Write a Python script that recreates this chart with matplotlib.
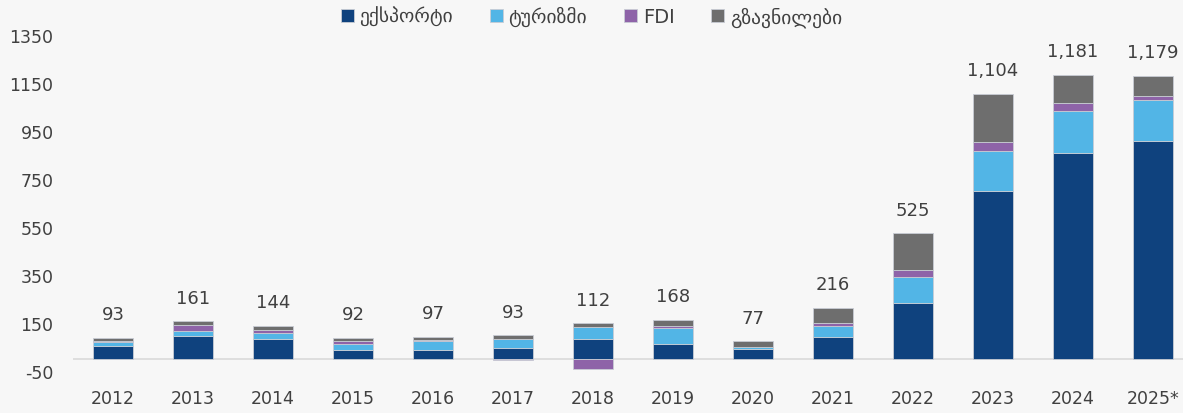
import numpy as np
import matplotlib.pyplot as plt

plt.rcParams["axes.unicode_minus"] = False

years = ["2012", "2013", "2014", "2015", "2016", "2017", "2018",
         "2019", "2020", "2021", "2022", "2023", "2024", "2025*"]

export = [55, 97, 85, 39, 36, 47, 85, 61, 42, 92, 234, 701, 858, 909]
tourism = [16, 21, 24, 25, 39, 38, 47, 68, 9, 45, 106, 166, 173, 169]
fdi = [4, 22, 12, 11, 5, -6, -42, 7, 1, 13, 32, 35, 33, 17]
remit = [12, 17, 18, 12, 13, 14, 17, 28, 21, 62, 151, 201, 118, 85]

totals = ["93", "161", "144", "92", "97", "93", "112",
          "168", "77", "216", "525", "1,104", "1,181", "1,179"]

names = ["ექსპორტი", "ტურიზმი", "FDI", "გზავნილები"]
colors = ["#0f427e", "#52b5e6", "#8e63a8", "#6e6e6e"]

bg = "#f7f7f7"
fig = plt.figure(figsize=(11.83, 4.14), dpi=100, facecolor=bg)
ax = fig.add_axes([0.0617, 0.1014, 0.9467, 0.8124], facecolor=bg)

x = np.arange(len(years))
pos = np.zeros(len(years))
neg = np.zeros(len(years))
for vals, name, c in zip([export, tourism, fdi, remit], names, colors):
    v = np.array(vals, dtype=float)
    bottom = np.where(v >= 0, pos, neg)
    ax.bar(x, v, 0.5, bottom=bottom, color=c, label=name,
           edgecolor="#c8ccd4", linewidth=0.6)
    pos = pos + np.where(v >= 0, v, 0)
    neg = neg + np.where(v < 0, v, 0)

# totals above the bars
for xi, top, lab in zip(x, pos, totals):
    ax.annotate(lab, (xi, top), xytext=(0, 17), textcoords="offset points",
                ha="center", va="center", fontsize=13, color="#404040")

ax.axhline(0, color="#d9d9d9", linewidth=1.2, zorder=0)

ax.set_xlim(-0.5, 13.5)
ax.set_ylim(-50, 1350)
ax.set_yticks(np.arange(-50, 1351, 200))
ax.set_xticks(x)
ax.set_xticklabels(years)
ax.tick_params(axis="both", length=0, labelsize=12.5, labelcolor="#404040")
ax.tick_params(axis="y", pad=14)
ax.tick_params(axis="x", pad=13)
for s in ax.spines.values():
    s.set_visible(False)

fig.legend(loc="upper center", bbox_to_anchor=(0.5, 1.025), ncol=4,
           frameon=False, fontsize=14, handlelength=0.65, handleheight=0.65,
           handletextpad=0.3, columnspacing=1.9, labelcolor="#404040")

fig.savefig("out.png", dpi=100, facecolor=bg)
